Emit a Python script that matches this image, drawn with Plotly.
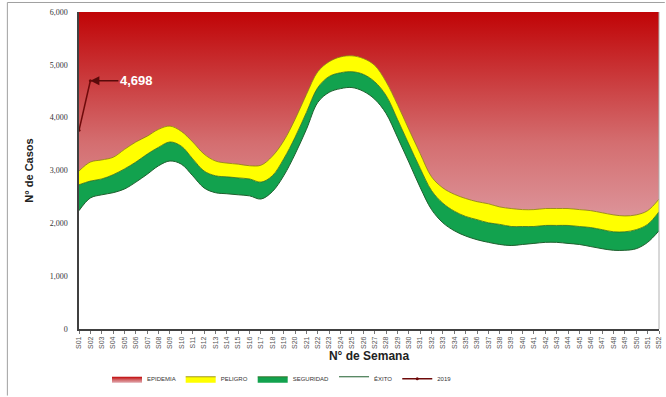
import plotly.graph_objects as go

weeks = ["S%02d" % i for i in range(1, 53)]

exito = [2240, 2480, 2540, 2580, 2650, 2780, 2930, 3090, 3180, 3120, 2900, 2670,
         2580, 2560, 2540, 2520, 2460, 2600, 2900, 3310, 3780, 4290, 4480, 4550,
         4570, 4500, 4350, 4080, 3630, 3160, 2680, 2260, 2010, 1860, 1760, 1690,
         1640, 1600, 1580, 1600, 1620, 1640, 1640, 1620, 1600, 1560, 1520, 1490,
         1490, 1520, 1640, 1860]

seguridad = [2730, 2800, 2840, 2920, 3030, 3160, 3310, 3440, 3540, 3460, 3220, 2990,
             2900, 2880, 2860, 2840, 2780, 2900, 3220, 3630, 4100, 4570, 4780, 4850,
             4870, 4820, 4680, 4420, 3970, 3500, 3040, 2620, 2380, 2230, 2130, 2070,
             2010, 1980, 1940, 1940, 1940, 1960, 1960, 1960, 1940, 1920, 1880, 1840,
             1840, 1880, 1980, 2220]

peligro = [2990, 3160, 3200, 3250, 3400, 3540, 3650, 3780, 3840, 3740, 3540, 3310,
           3180, 3140, 3120, 3090, 3100, 3270, 3560, 3970, 4440, 4870, 5060, 5150,
           5170, 5120, 4990, 4680, 4250, 3780, 3320, 2880, 2670, 2550, 2470, 2410,
           2370, 2310, 2280, 2260, 2260, 2280, 2280, 2280, 2260, 2240, 2200, 2160,
           2140, 2160, 2240, 2460]

epidemia = [6000] * 52

weeks_2019 = ["S01", "S02"]
casos_2019 = [3760, 4698]

yticks = [0, 1000, 2000, 3000, 4000, 5000, 6000]

fig = go.Figure()

fig.add_trace(go.Scatter(
    x=weeks, y=exito, name="ÉXITO", mode="lines", line_shape="spline",
    line=dict(color="#1f5f2e", width=1), fill="tozeroy", fillcolor="white",
    legendrank=4))
fig.add_trace(go.Scatter(
    x=weeks, y=seguridad, name="SEGURIDAD", mode="lines", line_shape="spline",
    line=dict(color="#2f6a1c", width=0.8), fill="tonexty", fillcolor="#12a24e",
    legendrank=3))
fig.add_trace(go.Scatter(
    x=weeks, y=peligro, name="PELIGRO", mode="lines", line_shape="spline",
    line=dict(color="#8c8000", width=0.8), fill="tonexty", fillcolor="#ffff00",
    legendrank=2))
fig.add_trace(go.Scatter(
    x=weeks, y=epidemia, name="EPIDEMIA", mode="lines",
    line=dict(color="#c00000", width=0), fill="tonexty",
    fillgradient=dict(type="vertical", start=1500, stop=6000,
                      colorscale=[[0, "rgb(224,165,172)"],
                                  [0.45, "rgb(212,110,112)"],
                                  [1, "rgb(192,4,6)"]]),
    legendrank=1))
fig.add_trace(go.Scatter(
    x=weeks_2019, y=casos_2019, name="2019", mode="lines+markers",
    line=dict(color="#6e0a0a", width=1.5), marker=dict(size=3, color="#6e0a0a"),
    legendrank=5))

fig.add_annotation(
    x="S02", y=4698, text="<b>4,698</b>", showarrow=True, ax=28, ay=0,
    xanchor="left", arrowhead=2, arrowsize=1.2, arrowwidth=1.5,
    arrowcolor="#5a0a0a", font=dict(color="white", size=13, family="Arial"))

# outer frame lines
fig.add_shape(type="line", xref="paper", yref="paper", x0=-0.1235, x1=-0.1235,
              y0=1.03, y1=-0.21, line=dict(color="#a0a0a0", width=1))
fig.add_shape(type="line", xref="paper", yref="paper", x0=-0.1235, x1=1.01,
              y0=1.03, y1=1.03, line=dict(color="#a0a0a0", width=1))
fig.add_shape(type="line", xref="paper", yref="paper", x0=1.0, x1=1.0,
              y0=0, y1=1, line=dict(color="#b0b0b0", width=1))

fig.update_layout(
    width=666, height=397,
    margin=dict(l=79, r=4, t=12, b=66),
    paper_bgcolor="white", plot_bgcolor="white",
    showlegend=True,
    legend=dict(orientation="h", x=0.35, y=-0.157, xanchor="center", yanchor="middle",
                font=dict(size=6, family="Arial", color="#333333"),
                itemwidth=30, traceorder="normal"),
    xaxis=dict(type="category", range=[0, 51], tickangle=-90,
               tickfont=dict(size=7, family="Arial", color="#555555"),
               ticks="outside", ticklen=3, tickcolor="#777777",
               showline=True, linecolor="#404040", linewidth=1.5,
               showgrid=False, zeroline=False,
               title=dict(text="<b>N° de Semana</b>", standoff=4,
                          font=dict(size=12, family="Arial", color="#222222"))),
    yaxis=dict(range=[0, 6000], tickvals=yticks, tickformat=",",
               tickfont=dict(size=8, family="Liberation Serif", color="#333333"),
               ticks="", ticklabelstandoff=8,
               showline=True, linecolor="#404040", linewidth=1.5,
               showgrid=False, zeroline=False,
               title=dict(text="<b>N° de Casos</b>", standoff=14,
                          font=dict(size=11, family="Arial", color="#222222"))),
)

fig.write_html("out.html")
